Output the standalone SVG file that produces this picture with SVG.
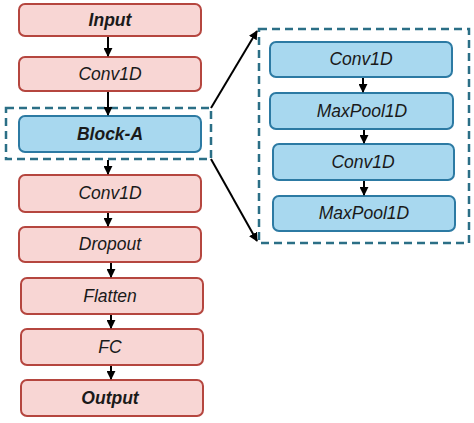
<svg xmlns="http://www.w3.org/2000/svg" width="474" height="423" viewBox="0 0 474 423">
<style>
.p{fill:#f8d6d4;stroke:#b5463f;stroke-width:2}
.b{fill:#a8d8ef;stroke:#2c7aa3;stroke-width:2}
.d{fill:none;stroke:#2b6f86;stroke-width:2.5;stroke-dasharray:8,5}
.t{font-family:"Liberation Sans",Arial,sans-serif;font-style:italic;font-size:17.5px;fill:#1a1a1a;text-anchor:middle}
.bt{font-weight:bold}
.c{stroke:#000;stroke-width:2;fill:none;marker-end:url(#ah)}
</style>
<defs>
<marker id="ah" viewBox="0 0 10 10" refX="9" refY="5" markerWidth="4.5" markerHeight="4.5" orient="auto-start-reverse" markerUnits="strokeWidth">
<path d="M0,0 L10,5 L0,10 z" fill="#000"/>
</marker>
</defs>
<rect class="d" x="6" y="108" width="205" height="51"/>
<rect class="d" x="259" y="29" width="210" height="214"/>
<g id="input"><rect class="p" x="19" y="4" width="182" height="32" rx="6"/><text class="t bt" x="110" y="26">Input</text></g>
<g id="conv1"><rect class="p" x="19" y="57" width="182" height="34" rx="6"/><text class="t" x="110" y="80">Conv1D</text></g>
<g id="blockA"><rect class="b" x="19" y="116" width="182" height="36" rx="6"/><text class="t bt" x="110" y="140">Block-A</text></g>
<g id="conv2"><rect class="p" x="19" y="175" width="182" height="37" rx="6"/><text class="t" x="110" y="199">Conv1D</text></g>
<g id="dropout"><rect class="p" x="19" y="227" width="182" height="35" rx="6"/><text class="t" x="110" y="250">Dropout</text></g>
<g id="flatten"><rect class="p" x="21" y="278" width="182" height="36" rx="6"/><text class="t" x="110" y="302">Flatten</text></g>
<g id="fc"><rect class="p" x="21" y="329" width="182" height="36" rx="6"/><text class="t" x="110" y="353">FC</text></g>
<g id="output"><rect class="p" x="21" y="380" width="182" height="36" rx="6"/><text class="t bt" x="110" y="404">Output</text></g>
<g id="r_conv1"><rect class="b" x="270" y="42" width="182" height="35" rx="6"/><text class="t" x="361" y="65">Conv1D</text></g>
<g id="r_pool1"><rect class="b" x="270" y="93" width="183" height="36" rx="6"/><text class="t" x="362" y="117">MaxPool1D</text></g>
<g id="r_conv2"><rect class="b" x="273" y="144" width="181" height="36" rx="6"/><text class="t" x="363" y="168">Conv1D</text></g>
<g id="r_pool2"><rect class="b" x="273" y="196" width="182" height="35" rx="6"/><text class="t" x="364" y="219">MaxPool1D</text></g>
<g id="connectors">
<line class="c" x1="108" y1="37" x2="108" y2="56"/>
<line class="c" x1="108" y1="92" x2="108" y2="115"/>
<line class="c" x1="108" y1="160" x2="108" y2="174"/>
<line class="c" x1="108" y1="213" x2="108" y2="226"/>
<line class="c" x1="111" y1="263" x2="111" y2="277"/>
<line class="c" x1="111" y1="315" x2="111" y2="328"/>
<line class="c" x1="111" y1="366" x2="111" y2="379"/>
<line class="c" x1="363" y1="78" x2="363" y2="92"/>
<line class="c" x1="364" y1="130" x2="364" y2="143"/>
<line class="c" x1="364" y1="181" x2="364" y2="195"/>
<line class="c" x1="211" y1="108" x2="257" y2="31"/>
<line class="c" x1="211" y1="159" x2="257" y2="241"/>
</g>
</svg>
